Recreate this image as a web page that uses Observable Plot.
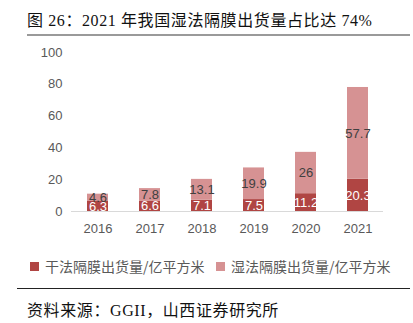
<!DOCTYPE html>
<html>
<head>
<meta charset="utf-8">
<script src="https://cdn.jsdelivr.net/npm/d3@7"></script>
<script src="https://cdn.jsdelivr.net/npm/@observablehq/plot@0.6"></script>
<style>
  html, body { margin: 0; padding: 0; background: #fff; }
  #wrap { position: relative; width: 413px; height: 323px; overflow: hidden; }
  .title { position: absolute; left: 27px; top: 7px; font: 16px "Liberation Serif", "DejaVu Serif", "Noto Sans CJK SC", serif; letter-spacing: 0.6px; color: #111; white-space: nowrap; }
  .tline { position: absolute; left: 27px; top: 34px; width: 383px; height: 2px; background: #9a9a9a; }
  #chart { position: absolute; left: 0; top: 38px; }
  .legend { position: absolute; top: 256px; font: 14px "Noto Sans CJK SC", sans-serif; color: #595959; white-space: nowrap; display: flex; align-items: center; }
  .sw { display: inline-block; width: 9px; height: 9px; margin-right: 6px; }
  .bline { position: absolute; left: 17px; top: 288px; width: 393px; height: 1px; background: #222; }
  .source { position: absolute; left: 27px; top: 297px; font: 16px "Liberation Serif", "DejaVu Serif", "Noto Sans CJK SC", serif; letter-spacing: 0.6px; color: #111; white-space: nowrap; }
</style>
</head>
<body>
<div id="wrap">
  <div class="title">图 26：2021 年我国湿法隔膜出货量占比达 74%</div>
  <div class="tline"></div>
  <div id="chart"></div>
  <div class="legend" style="left:30px"><span class="sw" id="sw0"></span><span id="lg0"></span></div>
  <div class="legend" style="left:216px"><span class="sw" id="sw1"></span><span id="lg1"></span></div>
  <div class="bline"></div>
  <div class="source">资料来源：GGII，山西证券研究所</div>
</div>
<script>
const years = ["2016", "2017", "2018", "2019", "2020", "2021"];
const dryValues = [6.3, 6.6, 7.1, 7.5, 11.2, 20.3];
const wetValues = [4.6, 7.8, 13.1, 19.9, 26, 57.7];
const seriesNames = ["干法隔膜出货量/亿平方米", "湿法隔膜出货量/亿平方米"];
const seriesColors = ["#B04543", "#D69293"];
const labelColors = ["#ffffff", "#404040"];
const yTicks = [0, 20, 40, 60, 80, 100];

const data = [];
years.forEach((yr, i) => {
  data.push({year: yr, series: seriesNames[0], value: dryValues[i]});
  data.push({year: yr, series: seriesNames[1], value: wetValues[i]});
});

document.getElementById("sw0").style.background = seriesColors[0];
document.getElementById("sw1").style.background = seriesColors[1];
document.getElementById("lg0").textContent = seriesNames[0];
document.getElementById("lg1").textContent = seriesNames[1];

const chart = Plot.plot({
  width: 413,
  height: 207,
  marginLeft: 71,
  marginRight: 30,
  marginTop: 14,
  marginBottom: 34,
  style: {fontFamily: "'Liberation Sans', 'Open Sans', sans-serif", fontSize: "13px", color: "#595959", background: "transparent"},
  x: {domain: years, paddingInner: 0.6, paddingOuter: 0.3, label: null, tickSize: 0, tickPadding: 12},
  y: {domain: [0, 100], ticks: yTicks, label: null, tickSize: 0, tickPadding: 9},
  color: {domain: seriesNames, range: seriesColors},
  marks: [
    Plot.barY(data, Plot.stackY({x: "year", y: "value", z: "series", fill: "series", order: seriesNames})),
    Plot.ruleY([0], {stroke: "#d9d9d9", strokeWidth: 1}),
    Plot.text(data, Plot.stackY({x: "year", y: "value", z: "series", order: seriesNames, text: d => String(d.value),
      fill: d => labelColors[seriesNames.indexOf(d.series)], fontSize: 13}))
  ]
});
document.getElementById("chart").appendChild(chart);
</script>
</body>
</html>
